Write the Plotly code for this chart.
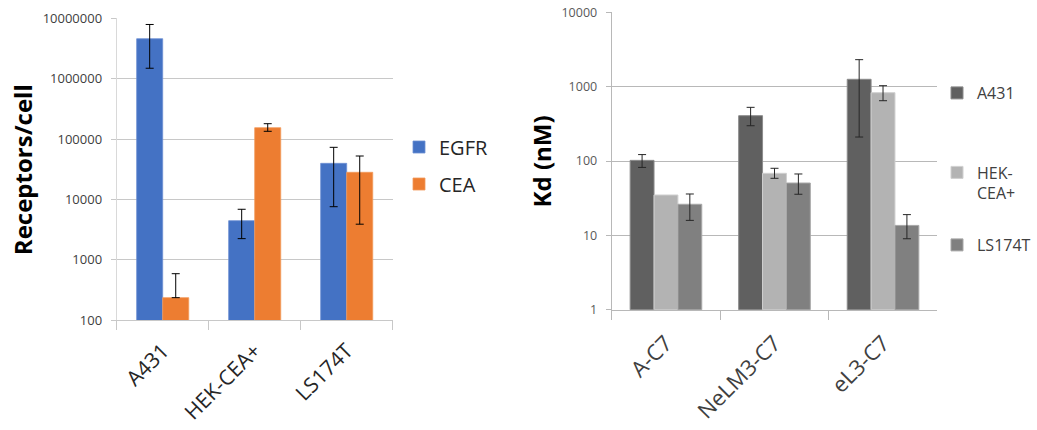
import plotly.graph_objects as go

# ---------------- data ----------------
cells = ["A431", "HEK-CEA+", "LS174T"]
egfr = [4590000, 4460, 39700]
egfr_up = [3310000, 2430, 33400]
egfr_down = [3100000, 2210, 32100]
cea = [237, 154500, 28200]
cea_up = [354, 25400, 24300]
cea_down = [0, 19900, 24300]

binders = ["A-C7", "NeLM3-C7", "eL3-C7"]
kd_a431 = [102, 407, 1256]
kd_a431_up = [20, 120, 1050]
kd_a431_down = [20, 109, 1046]
kd_hek = [34.9, 68.3, 830]
# HEK-CEA+ has no error bar on A-C7
kd_hek_err_x = ["NeLM3-C7", "eL3-C7"]
kd_hek_err_y = [68.3, 830]
kd_hek_up = [11.5, 200]
kd_hek_down = [9.8, 183]
kd_ls = [26.2, 50.6, 13.6]
kd_ls_up = [9.8, 16.3, 5.4]
kd_ls_down = [10.3, 14.9, 4.6]

left_tickvals = [100, 1000, 10000, 100000, 1000000, 10000000]
left_ticktext = ["100", "1000", "10000", "100000", "1000000", "10000000"]
right_tickvals = [1, 10, 100, 1000, 10000]
right_ticktext = ["1", "10", "100", "1000", "10000"]

W, H = 1037, 430
FONT = "Open Sans"

def px_x(p):
    return p / W

def px_y(p):
    return 1 - p / H

fig = go.Figure()

# ---------------- left chart ----------------
lw = 0.283
fig.add_trace(go.Bar(
    x=cells, y=egfr, name="EGFR", xaxis="x", yaxis="y",
    width=lw, offset=-lw, showlegend=True,
    marker=dict(color="#4472C4", line=dict(color="#6d8fd3", width=0.8)),
    error_y=dict(type="data", symmetric=False, array=egfr_up, arrayminus=egfr_down,
                 color="#000000", thickness=1, width=4),
    legend="legend",
))
fig.add_trace(go.Bar(
    x=cells, y=cea, name="CEA", xaxis="x", yaxis="y",
    width=lw, offset=0, showlegend=True,
    marker=dict(color="#ED7D31", line=dict(color="#f29a5c", width=0.8)),
    error_y=dict(type="data", symmetric=False, array=cea_up, arrayminus=cea_down,
                 color="#000000", thickness=1, width=4),
    legend="legend2",
))

# ---------------- right chart ----------------
rw = 0.22
fig.add_trace(go.Bar(
    x=binders, y=kd_a431, name="A431", xaxis="x2", yaxis="y2",
    width=rw, offset=-1.5 * rw, showlegend=True,
    marker=dict(color="#606060", line=dict(color="#8c8c8c", width=1)),
    error_y=dict(type="data", symmetric=False, array=kd_a431_up, arrayminus=kd_a431_down,
                 color="#262626", thickness=1, width=4),
    legend="legend3",
))
fig.add_trace(go.Bar(
    x=binders, y=kd_hek, name="HEK-<br>CEA+", xaxis="x2", yaxis="y2",
    width=rw, offset=-0.5 * rw, showlegend=True,
    marker=dict(color="#b3b3b3", line=dict(color="#d0d0d0", width=1)),
    legend="legend4",
))
fig.add_trace(go.Bar(
    x=kd_hek_err_x, y=kd_hek_err_y, name="HEK-CEA+ error", xaxis="x2", yaxis="y2",
    width=rw, offset=-0.5 * rw, showlegend=False,
    marker=dict(color="rgba(0,0,0,0)", line=dict(width=0)),
    error_y=dict(type="data", symmetric=False, array=kd_hek_up, arrayminus=kd_hek_down,
                 color="#262626", thickness=1, width=4),
    hoverinfo="skip",
))
fig.add_trace(go.Bar(
    x=binders, y=kd_ls, name="LS174T", xaxis="x2", yaxis="y2",
    width=rw, offset=0.5 * rw, showlegend=True,
    marker=dict(color="#808080", line=dict(color="#a8a8a8", width=1)),
    error_y=dict(type="data", symmetric=False, array=kd_ls_up, arrayminus=kd_ls_down,
                 color="#262626", thickness=1, width=4),
    legend="legend5",
))

grid_l = "#c8c8c8"
grid_r = "#b8b8b8"

fig.update_layout(
    width=W, height=H,
    margin=dict(l=0, r=0, t=0, b=0, autoexpand=False),
    paper_bgcolor="white", plot_bgcolor="white",
    font=dict(family=FONT, color="#404040"),
    barmode="overlay",
    showlegend=True,
    xaxis=dict(
        domain=[px_x(116.7), px_x(392.7)], anchor="y", type="category", automargin=False,
        showline=True, linecolor=grid_l, linewidth=1,
        ticks="outside", tickson="boundaries", ticklen=9, tickcolor=grid_l,
        tickangle=-45, tickfont=dict(size=21, color="#262626", family=FONT),
        showgrid=False, ticklabelstandoff=9,
    ),
    yaxis=dict(
        domain=[px_y(320.3), px_y(18.3)], anchor="x", type="log", range=[2, 7], automargin=False,
        tickvals=left_tickvals, ticktext=left_ticktext,
        showgrid=True, gridcolor=grid_l, gridwidth=1,
        showline=True, linecolor="#d9d9d9", linewidth=1,
        ticks="outside", ticklen=5, tickcolor=grid_l,
        tickfont=dict(size=13, color="#404040", family=FONT),
        zeroline=False, ticklabelstandoff=6,
    ),
    xaxis2=dict(
        domain=[px_x(611.7), px_x(937.3)], anchor="y2", type="category", automargin=False,
        showline=True, linecolor=grid_r, linewidth=1,
        ticks="outside", tickson="boundaries", ticklen=9, tickcolor=grid_r,
        tickangle=-45, tickfont=dict(size=22, color="#404040", family=FONT),
        showgrid=False, ticklabelstandoff=11,
    ),
    yaxis2=dict(
        domain=[px_y(309.7), px_y(12.3)], anchor="x2", type="log", range=[0, 4], automargin=False,
        tickvals=right_tickvals, ticktext=right_ticktext,
        showgrid=True, gridcolor=grid_r, gridwidth=1,
        showline=True, linecolor=grid_r, linewidth=1,
        ticks="outside", ticklen=5, tickcolor=grid_r,
        tickfont=dict(size=12.5, color="#595959", family=FONT),
        zeroline=False, ticklabelstandoff=6,
    ),
    legend=dict(x=px_x(399), y=px_y(147), xanchor="left", yanchor="middle",
                font=dict(size=20, color="#262626", family=FONT), bgcolor="rgba(0,0,0,0)"),
    legend2=dict(x=px_x(399), y=px_y(184), xanchor="left", yanchor="middle",
                 font=dict(size=20, color="#262626", family=FONT), bgcolor="rgba(0,0,0,0)"),
    legend3=dict(x=px_x(937), y=px_y(93), xanchor="left", yanchor="middle",
                 font=dict(size=16, color="#404040", family=FONT), bgcolor="rgba(0,0,0,0)"),
    legend4=dict(x=px_x(937), y=px_y(183), xanchor="left", yanchor="middle", valign="top",
                 font=dict(size=16, color="#404040", family=FONT), bgcolor="rgba(0,0,0,0)"),
    legend5=dict(x=px_x(937), y=px_y(245), xanchor="left", yanchor="middle",
                 font=dict(size=16, color="#404040", family=FONT), bgcolor="rgba(0,0,0,0)"),
    annotations=[
        dict(text="<b>Receptors/cell</b>", x=px_x(22.7), y=px_y(169.5), xref="paper", yref="paper",
             textangle=-90, showarrow=False, font=dict(size=24, color="#000000", family=FONT),
             xanchor="center", yanchor="middle"),
        dict(text="<b>Kd (nM)</b>", x=px_x(541.7), y=px_y(161.7), xref="paper", yref="paper",
             textangle=-90, showarrow=False, font=dict(size=24, color="#000000", family=FONT),
             xanchor="center", yanchor="middle"),
    ],
)

fig.write_html("out.html")
